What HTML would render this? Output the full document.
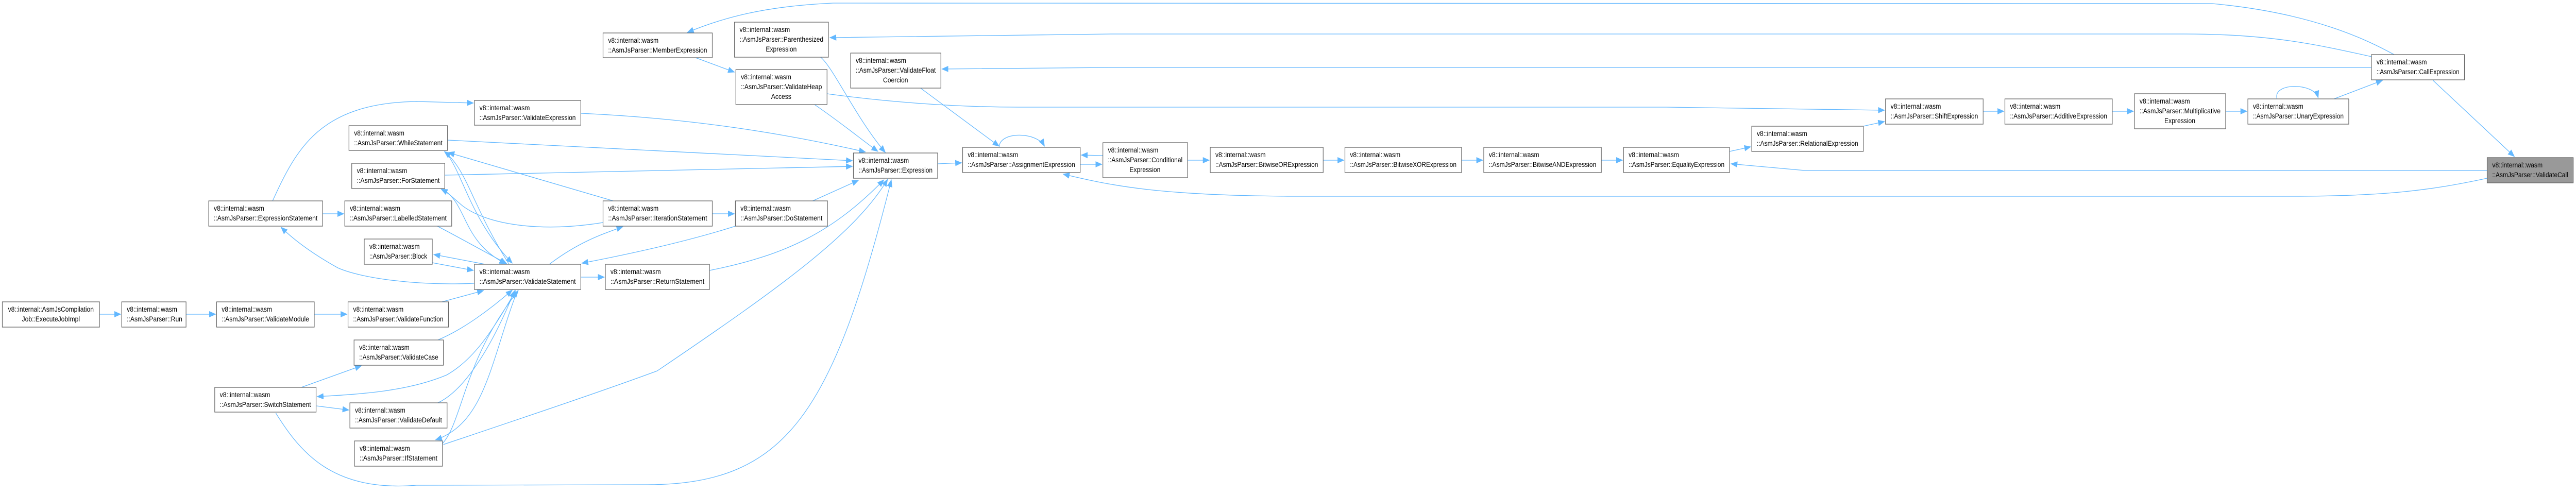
<!DOCTYPE html>
<html><head><meta charset="utf-8"><style>
html,body{margin:0;padding:0;background:#fff;overflow:hidden;width:100%;height:100%;}
svg{display:block;width:100vw;height:100vh;}
.n rect{fill:#fff;stroke:#666;stroke-width:1.3;}
.n text{font-family:"Liberation Sans",sans-serif;font-size:13.5px;fill:#000;}
.e{fill:none;stroke:#63b8ff;stroke-width:1.3;}
</style></head><body>
<svg viewBox="0 0 5566 959" preserveAspectRatio="none" xmlns="http://www.w3.org/2000/svg">
<defs><marker id="a" markerUnits="userSpaceOnUse" markerWidth="16" markerHeight="12" refX="14" refY="6" orient="auto"><path d="M0,0 L15,6 L0,12 z" fill="#63b8ff"/></marker></defs>
<g marker-end="url(#a)">
<path class="e" d="M215,610 L261,610"/>
<path class="e" d="M402,610 L466,610"/>
<path class="e" d="M679,610 L750,610"/>
<path class="e" d="M955,586 L1045,564"/>
<path class="e" d="M697,415 L743,415"/>
<path class="e" d="M589,390 C640,290 690,200 900,197 L1023,200"/>
<path class="e" d="M1025,550 C900,555 780,540 730,520 C680,495 640,470 607,441"/>
<path class="e" d="M945,439 C990,460 1050,490 1095,512"/>
<path class="e" d="M1048,513 L937,494"/>
<path class="e" d="M934,510 L1023,525"/>
<path class="e" d="M1100,513 C1020,400 1010,330 960,294"/>
<path class="e" d="M967,300 C1000,340 1020,430 1107,511"/>
<path class="e" d="M1325,390 L968,296"/>
<path class="e" d="M1303,432 C1180,450 1060,440 1000,400 C980,385 970,375 953,367"/>
<path class="e" d="M961,370 C1010,400 1000,470 1093,512"/>
<path class="e" d="M1187,513 C1250,470 1300,455 1346,440"/>
<path class="e" d="M1589,439 C1480,470 1350,495 1257,511"/>
<path class="e" d="M1255,538 L1306,538"/>
<path class="e" d="M651,752 L781,710"/>
<path class="e" d="M946,660 C1000,640 1060,600 1107,563"/>
<path class="e" d="M1115,563 C1060,650 1020,700 965,728 C880,760 780,765 685,770"/>
<path class="e" d="M684,788 L754,796"/>
<path class="e" d="M946,782 C1000,760 1060,680 1112,564"/>
<path class="e" d="M1118,564 C1060,700 1050,820 941,854"/>
<path class="e" d="M955,862 C1000,820 1000,700 1120,564"/>
<path class="e" d="M596,802 C650,880 720,955 900,942 L1400,941 C1700,940 1800,800 1926,349"/>
<path class="e" d="M958,863 C1100,820 1300,760 1420,720 C1700,550 1850,450 1918,348"/>
<path class="e" d="M1255,220 C1500,230 1700,260 1870,295"/>
<path class="e" d="M967,272 L1842,312"/>
<path class="e" d="M961,340 L1842,323"/>
<path class="e" d="M1539,415 L1587,415"/>
<path class="e" d="M1756,390 L1855,350"/>
<path class="e" d="M1533,525 C1700,495 1800,450 1910,349"/>
<path class="e" d="M1503,112 L1587,140"/>
<path class="e" d="M1760,203 C1820,240 1860,270 1897,294"/>
<path class="e" d="M1773,111 C1800,130 1850,230 1913,296"/>
<path class="e" d="M1989,171 L2159,284"/>
<path class="e" d="M2026,318 L2078,316"/>
<path class="e" d="M2159,285 C2160,255 2240,255 2257,284"/>
<path class="e" d="M2334,319 L2381,319"/>
<path class="e" d="M2383,302 L2336,301"/>
<path class="e" d="M2566,311 L2613,311"/>
<path class="e" d="M2859,311 L2904,311"/>
<path class="e" d="M3158,311 L3204,311"/>
<path class="e" d="M3460,311 L3506,311"/>
<path class="e" d="M3737,294 L3783,285"/>
<path class="e" d="M4026,245 L4072,236"/>
<path class="e" d="M1787,182 C1900,196 2050,208 2200,208 L3600,208 L4072,214"/>
<path class="e" d="M4285,216 L4330,216"/>
<path class="e" d="M4564,216 L4610,216"/>
<path class="e" d="M4809,216 L4855,216"/>
<path class="e" d="M4920,192 C4910,160 5000,160 5009,190"/>
<path class="e" d="M5043,192 L5148,156"/>
<path class="e" d="M5257,156 L5433,304"/>
<path class="e" d="M5173,106 C5120,80 5000,25 4780,7 L1800,6 C1650,12 1560,35 1485,63"/>
<path class="e" d="M5124,110 C5000,85 4900,66 4720,66 L2400,66 L1793,73"/>
<path class="e" d="M5124,131 L2400,131 L2035,134"/>
<path class="e" d="M5374,331 L3900,331 L3740,318"/>
<path class="e" d="M5374,346 C5250,370 5150,381 4950,381 L2800,381 C2500,380 2400,360 2297,338"/>
</g>
<g class="n">
<rect x="5" y="586" width="210" height="49"/><text x="110" y="605" text-anchor="middle">v8::internal::AsmJsCompilation</text><text x="110" y="624" text-anchor="middle">Job::ExecuteJobImpl</text>
<rect x="263" y="586" width="139" height="49"/><text x="274" y="605">v8::internal::wasm</text><text x="274" y="624">::AsmJsParser::Run</text>
<rect x="468" y="586" width="211" height="49"/><text x="479" y="605">v8::internal::wasm</text><text x="479" y="624" textLength="189" lengthAdjust="spacingAndGlyphs">::AsmJsParser::ValidateModule</text>
<rect x="752" y="586" width="217" height="49"/><text x="763" y="605">v8::internal::wasm</text><text x="763" y="624" textLength="195" lengthAdjust="spacingAndGlyphs">::AsmJsParser::ValidateFunction</text>
<rect x="451" y="390" width="246" height="49"/><text x="462" y="409">v8::internal::wasm</text><text x="462" y="428" textLength="224" lengthAdjust="spacingAndGlyphs">::AsmJsParser::ExpressionStatement</text>
<rect x="745" y="390" width="231" height="49"/><text x="756" y="409">v8::internal::wasm</text><text x="756" y="428" textLength="209" lengthAdjust="spacingAndGlyphs">::AsmJsParser::LabelledStatement</text>
<rect x="1025" y="195" width="230" height="48"/><text x="1036" y="214">v8::internal::wasm</text><text x="1036" y="233" textLength="208" lengthAdjust="spacingAndGlyphs">::AsmJsParser::ValidateExpression</text>
<rect x="754" y="244" width="213" height="48"/><text x="765" y="263">v8::internal::wasm</text><text x="765" y="282" textLength="191" lengthAdjust="spacingAndGlyphs">::AsmJsParser::WhileStatement</text>
<rect x="760" y="317" width="201" height="49"/><text x="771" y="336">v8::internal::wasm</text><text x="771" y="355" textLength="179" lengthAdjust="spacingAndGlyphs">::AsmJsParser::ForStatement</text>
<rect x="787" y="464" width="147" height="49"/><text x="798" y="483">v8::internal::wasm</text><text x="798" y="502" textLength="125" lengthAdjust="spacingAndGlyphs">::AsmJsParser::Block</text>
<rect x="1025" y="513" width="230" height="49"/><text x="1036" y="532">v8::internal::wasm</text><text x="1036" y="551" textLength="208" lengthAdjust="spacingAndGlyphs">::AsmJsParser::ValidateStatement</text>
<rect x="765" y="660" width="193" height="49"/><text x="776" y="679">v8::internal::wasm</text><text x="776" y="698" textLength="171" lengthAdjust="spacingAndGlyphs">::AsmJsParser::ValidateCase</text>
<rect x="464" y="752" width="219" height="48"/><text x="475" y="771">v8::internal::wasm</text><text x="475" y="790" textLength="197" lengthAdjust="spacingAndGlyphs">::AsmJsParser::SwitchStatement</text>
<rect x="756" y="782" width="210" height="49"/><text x="767" y="801">v8::internal::wasm</text><text x="767" y="820" textLength="188" lengthAdjust="spacingAndGlyphs">::AsmJsParser::ValidateDefault</text>
<rect x="766" y="856" width="190" height="49"/><text x="777" y="875">v8::internal::wasm</text><text x="777" y="894" textLength="168" lengthAdjust="spacingAndGlyphs">::AsmJsParser::IfStatement</text>
<rect x="1303" y="64" width="236" height="48"/><text x="1314" y="83">v8::internal::wasm</text><text x="1314" y="102" textLength="214" lengthAdjust="spacingAndGlyphs">::AsmJsParser::MemberExpression</text>
<rect x="1303" y="390" width="236" height="49"/><text x="1314" y="409">v8::internal::wasm</text><text x="1314" y="428" textLength="214" lengthAdjust="spacingAndGlyphs">::AsmJsParser::IterationStatement</text>
<rect x="1308" y="513" width="225" height="49"/><text x="1319" y="532">v8::internal::wasm</text><text x="1319" y="551" textLength="203" lengthAdjust="spacingAndGlyphs">::AsmJsParser::ReturnStatement</text>
<rect x="1587" y="43" width="203" height="68"/><text x="1598" y="62">v8::internal::wasm</text><text x="1598" y="81" textLength="181" lengthAdjust="spacingAndGlyphs">::AsmJsParser::Parenthesized</text><text x="1688" y="100" text-anchor="middle">Expression</text>
<rect x="1590" y="135" width="197" height="68"/><text x="1601" y="154">v8::internal::wasm</text><text x="1601" y="173" textLength="175" lengthAdjust="spacingAndGlyphs">::AsmJsParser::ValidateHeap</text><text x="1688" y="192" text-anchor="middle">Access</text>
<rect x="1838" y="103" width="195" height="68"/><text x="1849" y="122">v8::internal::wasm</text><text x="1849" y="141" textLength="173" lengthAdjust="spacingAndGlyphs">::AsmJsParser::ValidateFloat</text><text x="1935" y="160" text-anchor="middle">Coercion</text>
<rect x="1844" y="297" width="182" height="49"/><text x="1855" y="316">v8::internal::wasm</text><text x="1855" y="335" textLength="160" lengthAdjust="spacingAndGlyphs">::AsmJsParser::Expression</text>
<rect x="1589" y="390" width="199" height="49"/><text x="1600" y="409">v8::internal::wasm</text><text x="1600" y="428" textLength="177" lengthAdjust="spacingAndGlyphs">::AsmJsParser::DoStatement</text>
<rect x="2080" y="286" width="254" height="49"/><text x="2091" y="305">v8::internal::wasm</text><text x="2091" y="324" textLength="232" lengthAdjust="spacingAndGlyphs">::AsmJsParser::AssignmentExpression</text>
<rect x="2383" y="277" width="183" height="68"/><text x="2394" y="296">v8::internal::wasm</text><text x="2394" y="315" textLength="161" lengthAdjust="spacingAndGlyphs">::AsmJsParser::Conditional</text><text x="2474" y="334" text-anchor="middle">Expression</text>
<rect x="2615" y="286" width="244" height="49"/><text x="2626" y="305">v8::internal::wasm</text><text x="2626" y="324" textLength="222" lengthAdjust="spacingAndGlyphs">::AsmJsParser::BitwiseORExpression</text>
<rect x="2906" y="286" width="252" height="49"/><text x="2917" y="305">v8::internal::wasm</text><text x="2917" y="324" textLength="230" lengthAdjust="spacingAndGlyphs">::AsmJsParser::BitwiseXORExpression</text>
<rect x="3206" y="286" width="254" height="49"/><text x="3217" y="305">v8::internal::wasm</text><text x="3217" y="324" textLength="232" lengthAdjust="spacingAndGlyphs">::AsmJsParser::BitwiseANDExpression</text>
<rect x="3508" y="286" width="229" height="49"/><text x="3519" y="305">v8::internal::wasm</text><text x="3519" y="324" textLength="207" lengthAdjust="spacingAndGlyphs">::AsmJsParser::EqualityExpression</text>
<rect x="3785" y="245" width="241" height="49"/><text x="3796" y="264">v8::internal::wasm</text><text x="3796" y="283" textLength="219" lengthAdjust="spacingAndGlyphs">::AsmJsParser::RelationalExpression</text>
<rect x="4074" y="192" width="211" height="49"/><text x="4085" y="211">v8::internal::wasm</text><text x="4085" y="230" textLength="189" lengthAdjust="spacingAndGlyphs">::AsmJsParser::ShiftExpression</text>
<rect x="4332" y="192" width="232" height="49"/><text x="4343" y="211">v8::internal::wasm</text><text x="4343" y="230" textLength="210" lengthAdjust="spacingAndGlyphs">::AsmJsParser::AdditiveExpression</text>
<rect x="4612" y="182" width="197" height="68"/><text x="4623" y="201">v8::internal::wasm</text><text x="4623" y="220" textLength="175" lengthAdjust="spacingAndGlyphs">::AsmJsParser::Multiplicative</text><text x="4710" y="239" text-anchor="middle">Expression</text>
<rect x="4857" y="192" width="218" height="49"/><text x="4868" y="211">v8::internal::wasm</text><text x="4868" y="230" textLength="196" lengthAdjust="spacingAndGlyphs">::AsmJsParser::UnaryExpression</text>
<rect x="5124" y="106" width="201" height="49"/><text x="5135" y="125">v8::internal::wasm</text><text x="5135" y="144" textLength="179" lengthAdjust="spacingAndGlyphs">::AsmJsParser::CallExpression</text>
<rect x="5374" y="306" width="186" height="49" style="fill:#999"/><text x="5385" y="325">v8::internal::wasm</text><text x="5385" y="344" textLength="164" lengthAdjust="spacingAndGlyphs">::AsmJsParser::ValidateCall</text>
</g>
</svg>
</body></html>
